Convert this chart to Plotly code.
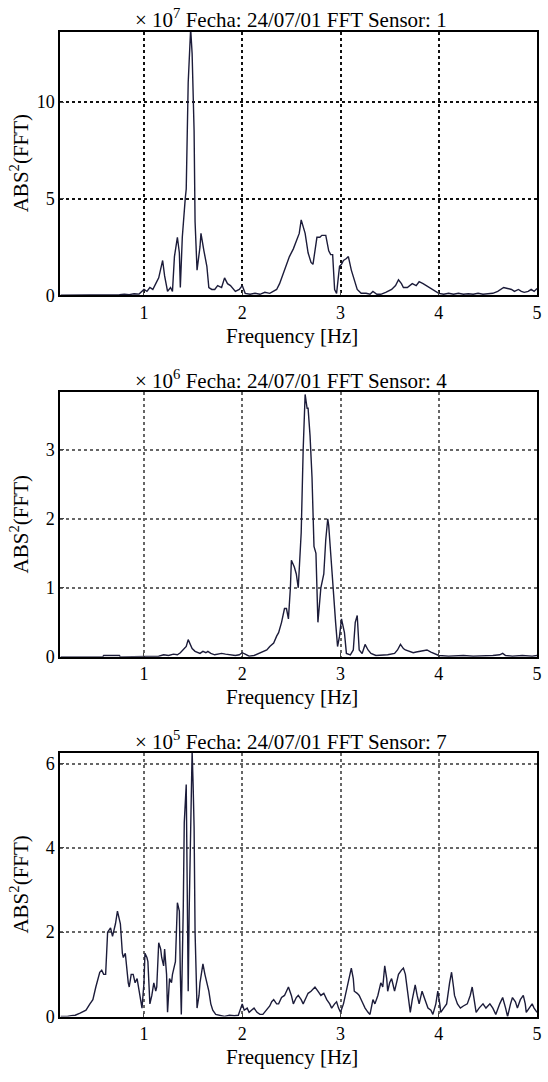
import plotly.graph_objects as go

# ---------------- data ----------------
titles = ["× 10<sup>7</sup> Fecha: 24/07/01 FFT Sensor: 1",
          "× 10<sup>6</sup> Fecha: 24/07/01 FFT Sensor: 4",
          "× 10<sup>5</sup> Fecha: 24/07/01 FFT Sensor: 7"]
x_ticks = [1, 2, 3, 4, 5]
y_ticks1 = [0, 5, 10]
y_ticks2 = [0, 1, 2, 3]
y_ticks3 = [0, 2, 4, 6]

f1 = [0.15, 0.40, 0.60, 0.70, 0.75, 0.80, 0.85, 0.90, 0.95, 1.00,
      1.03, 1.06, 1.09, 1.12, 1.15, 1.19, 1.21, 1.24, 1.27, 1.29,
      1.31, 1.34, 1.36, 1.37, 1.39, 1.42, 1.43, 1.45, 1.475, 1.49,
      1.50, 1.51, 1.52, 1.54, 1.57, 1.58, 1.61, 1.64, 1.66, 1.69,
      1.72, 1.75, 1.79, 1.82, 1.85, 1.88, 1.93, 1.97, 2.00, 2.03,
      2.08, 2.13, 2.18, 2.23, 2.28, 2.32, 2.35, 2.38, 2.41, 2.45,
      2.48, 2.52, 2.55, 2.58, 2.60, 2.62, 2.64, 2.67, 2.70, 2.72,
      2.74, 2.76, 2.79, 2.81, 2.83, 2.85, 2.88, 2.90, 2.92, 2.94,
      2.96, 2.99, 3.01, 3.03, 3.06, 3.08, 3.11, 3.14, 3.17, 3.21,
      3.26, 3.30, 3.33, 3.37, 3.41, 3.46, 3.52, 3.56, 3.59, 3.62,
      3.64, 3.68, 3.73, 3.77, 3.80, 3.84, 3.87, 3.93, 4.00, 4.05,
      4.10, 4.15, 4.20, 4.25, 4.30, 4.35, 4.40, 4.45, 4.50, 4.55,
      4.60, 4.63, 4.66, 4.70, 4.74, 4.77, 4.81, 4.84, 4.87, 4.91,
      4.94, 4.97, 5.00]
v1 = [0, 0, 0, 0.02, 0.03, 0.05, 0.03, 0.08, 0.06, 0.3,
      0.2, 0.4, 0.3, 0.6, 0.9, 1.8, 1.0, 0.2, 0.4, 0.2,
      2.0, 3.0, 2.2, 0.4, 3.0, 5.0, 5.5, 11.0, 13.8, 12.5,
      11.0, 8.5, 3.8, 1.3, 2.5, 3.2, 2.3, 1.5, 0.4, 0.3,
      0.3, 0.5, 0.4, 0.9, 0.6, 0.5, 0.2, 0.3, 0.5, 0.1,
      0.05, 0.1, 0.05, 0.15, 0.1, 0.2, 0.3, 0.6, 1.0, 1.5,
      2.0, 2.4, 2.8, 3.2, 3.9, 3.5, 3.2, 2.2, 1.7, 1.6,
      2.2, 3.0, 3.0, 3.1, 3.1, 3.1, 2.3, 2.1, 2.1, 0.3,
      0.1, 1.5, 1.6, 1.8, 1.9, 2.0, 1.3, 0.8, 0.3, 0.1,
      0.1, 0.05, 0.2, 0.05, 0.05, 0.15, 0.3, 0.5, 0.8, 0.6,
      0.4, 0.4, 0.6, 0.5, 0.7, 0.6, 0.5, 0.3, 0.1, 0.05,
      0.1, 0.05, 0.1, 0.05, 0.08, 0.05, 0.1, 0.05, 0.08, 0.1,
      0.2, 0.3, 0.4, 0.35, 0.3, 0.2, 0.3, 0.2, 0.15, 0.2,
      0.3, 0.2, 0.35]

f2 = [0.15, 0.58, 0.59, 0.75, 0.76, 1.00, 1.15, 1.20, 1.25, 1.30,
      1.34, 1.37, 1.40, 1.43, 1.45, 1.47, 1.49, 1.52, 1.54, 1.57,
      1.60, 1.63, 1.65, 1.68, 1.72, 1.76, 1.79, 1.83, 1.88, 1.93,
      1.97, 2.00, 2.03, 2.07, 2.12, 2.15, 2.18, 2.22, 2.25, 2.28,
      2.32, 2.35, 2.37, 2.40, 2.43, 2.45, 2.47, 2.49, 2.50, 2.53,
      2.55, 2.57, 2.59, 2.60, 2.62, 2.64, 2.66, 2.67, 2.69, 2.71,
      2.73, 2.75, 2.77, 2.79, 2.80, 2.83, 2.85, 2.87, 2.88, 2.90,
      2.93, 2.95, 2.97, 2.99, 3.01, 3.03, 3.04, 3.06, 3.10, 3.13,
      3.15, 3.17, 3.19, 3.22, 3.25, 3.28, 3.31, 3.36, 3.41, 3.48,
      3.55, 3.58, 3.61, 3.64, 3.66, 3.70, 3.74, 3.77, 3.82, 3.88,
      3.92, 3.95, 4.00, 4.10, 4.25, 4.35, 4.45, 4.55, 4.62, 4.65,
      4.68, 4.75, 4.85, 4.95, 5.00]
v2 = [0, 0, 0.02, 0.02, 0, 0, 0.01, 0.03, 0.02, 0.04,
      0.03, 0.06, 0.1, 0.15, 0.25, 0.18, 0.12, 0.08, 0.07, 0.05,
      0.08, 0.06, 0.08, 0.05, 0.03, 0.04, 0.05, 0.04, 0.03, 0.02,
      0.03, 0.06, 0.04, 0.01, 0.02, 0.04, 0.06, 0.08, 0.1, 0.15,
      0.2, 0.3, 0.35, 0.5, 0.7, 0.7, 0.55, 1.0, 1.4, 1.3,
      1.2, 1.0, 1.5, 1.8, 3.0, 3.8, 3.6, 3.6, 3.2, 2.6,
      1.6, 1.5, 0.5, 0.9, 1.0, 1.2, 1.7, 2.0, 1.9, 1.5,
      0.8, 0.5, 0.15, 0.3, 0.55, 0.4, 0.35, 0.05, 0.03, 0.1,
      0.5, 0.6, 0.1, 0.05, 0.18, 0.1, 0.05, 0.02, 0.02, 0.03,
      0.05, 0.1, 0.18, 0.12, 0.1, 0.08, 0.06, 0.07, 0.08, 0.1,
      0.07, 0.05, 0.02, 0.01, 0.02, 0.01, 0.01, 0.02, 0.03, 0.05,
      0.02, 0.01, 0.02, 0.01, 0.02]

f3 = [0.15, 0.22, 0.26, 0.30, 0.35, 0.41, 0.45, 0.48, 0.51, 0.53,
      0.55, 0.57, 0.59, 0.61, 0.63, 0.66, 0.68, 0.69, 0.71, 0.73,
      0.75, 0.76, 0.78, 0.79, 0.81, 0.82, 0.84, 0.85, 0.87, 0.89,
      0.91, 0.93, 0.95, 0.97, 0.98, 1.00, 1.01, 1.03, 1.04, 1.05,
      1.06, 1.08, 1.10, 1.12, 1.13, 1.15, 1.17, 1.18, 1.20, 1.21,
      1.23, 1.24, 1.26, 1.28, 1.29, 1.31, 1.32, 1.34, 1.36, 1.37,
      1.38, 1.40, 1.41, 1.43, 1.44, 1.45, 1.46, 1.47, 1.48, 1.49,
      1.50, 1.51, 1.52, 1.53, 1.54, 1.56, 1.57, 1.59, 1.60, 1.62,
      1.64, 1.66, 1.68, 1.70, 1.73, 1.78, 1.82, 1.87, 1.92, 1.96,
      2.00, 2.02, 2.05, 2.07, 2.10, 2.12, 2.15, 2.18, 2.21, 2.25,
      2.28, 2.30, 2.32, 2.35, 2.37, 2.40, 2.43, 2.45, 2.47, 2.50,
      2.52, 2.55, 2.57, 2.60, 2.62, 2.65, 2.67, 2.70, 2.74, 2.77,
      2.80, 2.83, 2.86, 2.89, 2.91, 2.94, 2.96, 2.98, 3.00, 3.03,
      3.05, 3.08, 3.11, 3.13, 3.14, 3.17, 3.19, 3.22, 3.25, 3.28,
      3.30, 3.33, 3.35, 3.38, 3.41, 3.43, 3.45, 3.47, 3.48, 3.50,
      3.52, 3.54, 3.55, 3.57, 3.59, 3.62, 3.64, 3.66, 3.67, 3.69,
      3.71, 3.73, 3.76, 3.78, 3.80, 3.82, 3.83, 3.86, 3.89, 3.92,
      3.94, 3.97, 3.99, 4.01, 4.02, 4.05, 4.08, 4.11, 4.13, 4.15,
      4.16, 4.19, 4.22, 4.25, 4.29, 4.32, 4.34, 4.36, 4.38, 4.41,
      4.45, 4.48, 4.52, 4.55, 4.58, 4.62, 4.65, 4.68, 4.70, 4.73,
      4.75, 4.78, 4.80, 4.83, 4.86, 4.88, 4.89, 4.92, 4.95, 4.97,
      5.00]
v3 = [0, 0, 0.02, 0.03, 0.08, 0.15, 0.3, 0.4, 0.7, 0.9,
      1.05, 1.1, 1.0, 1.0, 2.0, 2.1, 1.9, 2.0, 2.2, 2.5,
      2.3, 2.2, 1.5, 1.4, 1.5, 1.2, 0.8, 0.7, 1.0, 1.0,
      0.8, 0.9, 0.6, 0.4, 0.2, 0.8, 1.5, 1.4, 1.3, 0.8,
      0.3, 0.5, 0.8, 0.6, 0.7, 1.75, 1.6, 1.4, 1.2, 1.6,
      1.0, 0.1, 0.9, 0.8, 1.0, 1.2, 1.3, 2.7, 2.5, 1.0,
      0.05, 2.6, 4.6, 5.5, 3.0, 0.6, 2.5, 4.0, 5.0, 6.3,
      5.5, 4.5, 2.0, 0.8, 0.2, 0.5, 0.8, 1.1, 1.25, 1.0,
      0.8, 0.6, 0.3, 0.15, 0.05, 0.02, 0.0, 0.03, 0.02, 0.03,
      0.3, 0.15, 0.2, 0.1, 0.15, 0.2, 0.1, 0.05, 0.05, 0.15,
      0.25, 0.35, 0.4, 0.3, 0.3, 0.45, 0.5, 0.6, 0.7, 0.5,
      0.3, 0.45, 0.5, 0.4, 0.3, 0.45, 0.55, 0.6, 0.7, 0.6,
      0.5, 0.55, 0.4, 0.3, 0.2, 0.3, 0.35, 0.2, 0.1, 0.3,
      0.5, 0.8, 1.15, 0.9, 0.6, 0.55, 0.5, 0.35, 0.2, 0.1,
      0.05, 0.4, 0.3, 0.5, 0.8, 0.7, 1.2, 0.9, 0.6, 0.8,
      0.9, 0.7, 0.6, 0.8, 1.0, 1.1, 1.15, 1.0, 0.8, 0.4,
      0.1, 0.4, 0.75, 0.5, 0.3, 0.5, 0.6, 0.4, 0.2, 0.15,
      0.05, 0.3, 0.6, 0.3, 0.1, 0.2, 0.3, 0.8, 1.05, 0.7,
      0.5, 0.3, 0.2, 0.25, 0.3, 0.5, 0.7, 0.4, 0.1, 0.2,
      0.3, 0.2, 0.3, 0.2, 0.05, 0.3, 0.45, 0.2, 0.0, 0.3,
      0.45, 0.35, 0.2, 0.4, 0.5, 0.3, 0.1, 0.2, 0.3, 0.2,
      0.1]

assert len(f1) == len(v1) and len(f2) == len(v2) and len(f3) == len(v3)

# ---------------- figure ----------------
W, H = 548, 1082
FONT = "'Liberation Serif', 'Times New Roman', Times, serif"
LINE = "#1c1c3a"

# pixel geometry of the three plot boxes (top, bottom)
boxes = [(32, 298), (396, 663), (760, 1026)]
x_left, x_right = 61, 542
y_ranges = [[0, 13.64], [0, 3.83], [0, 6.25]]
y_ticks = [y_ticks1, y_ticks2, y_ticks3]
series = [(f1, v1), (f2, v2), (f3, v3)]
grid_cols = ["#111111", "#666666", "#666666"]
grid_w = [2, 1.5, 1.5]

fig = go.Figure()
layout = dict(width=W, height=H, margin=dict(l=0, r=0, t=0, b=0),
              paper_bgcolor="white", plot_bgcolor="white", showlegend=False,
              font=dict(family=FONT, size=18, color="black"))
annotations = []
for i, ((top, bot), (fx, vy)) in enumerate(zip(boxes, series)):
    n = "" if i == 0 else str(i + 1)
    fig.add_trace(go.Scatter(x=fx, y=vy, mode="lines",
                             line=dict(color=LINE, width=1.4),
                             xaxis="x" + n, yaxis="y" + n))
    layout["xaxis" + n] = dict(
        domain=[x_left / W, x_right / W], anchor="y" + n,
        range=[0.15, 5], tickvals=x_ticks, ticks="inside", ticklen=4,
        showgrid=True, gridcolor=grid_cols[i], griddash="dot", gridwidth=grid_w[i],
        showline=True, linecolor="black", linewidth=2, mirror=True,
        zeroline=False, tickfont=dict(size=18, family=FONT, color="black"))
    layout["yaxis" + n] = dict(
        domain=[1 - bot / H, 1 - top / H], anchor="x" + n,
        range=y_ranges[i], tickvals=y_ticks[i], ticks="inside", ticklen=4,
        showgrid=True, gridcolor=grid_cols[i], griddash="dot", gridwidth=grid_w[i],
        showline=True, linecolor="black", linewidth=2, mirror=True,
        zeroline=False, tickfont=dict(size=18, family=FONT, color="black"))
    # panel title
    annotations.append(dict(text=titles[i], x=294 / W, y=1 - (top - 13) / H,
                            xref="paper", yref="paper", xanchor="center", yanchor="middle",
                            showarrow=False, font=dict(size=21, family=FONT, color="black")))
    # y axis title
    annotations.append(dict(text="ABS<sup>2</sup>(FFT)", x=20 / W, y=1 - ((top + bot) / 2) / H,
                            xref="paper", yref="paper", xanchor="center", yanchor="middle",
                            textangle=-90, showarrow=False,
                            font=dict(size=21, family=FONT, color="black")))
    # x axis title
    annotations.append(dict(text="Frequency [Hz]", x=295 / W, y=1 - (bot + 41) / H,
                            xref="paper", yref="paper", xanchor="center", yanchor="middle",
                            showarrow=False, font=dict(size=21, family=FONT, color="black")))
layout["annotations"] = annotations
fig.update_layout(**layout)
fig.write_html("out.html")
